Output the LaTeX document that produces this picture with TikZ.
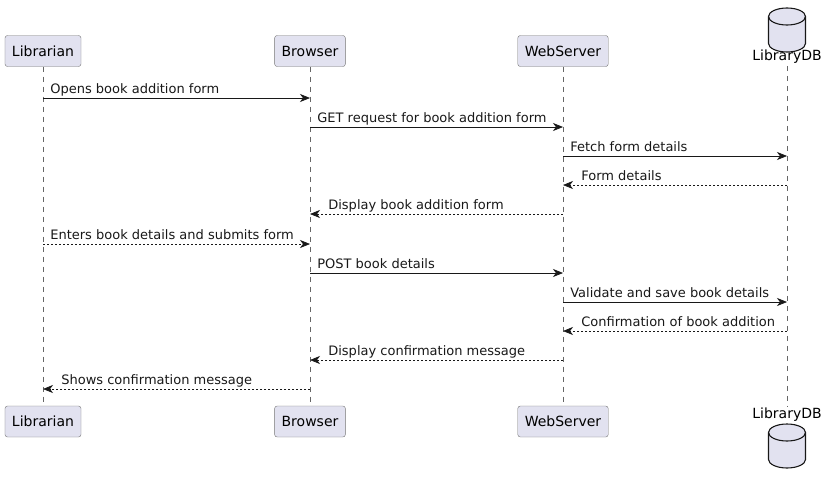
\documentclass[tikz,border=0pt]{standalone}
\usepackage{fontspec}
\setmainfont{DejaVu Sans}
\usetikzlibrary{arrows.meta,positioning}
\definecolor{boxfill}{HTML}{E2E2F0}
\definecolor{ink}{HTML}{181818}
% database drum centred on a named coordinate
\newcommand{\dbdrum}[1]{%
  \begin{scope}[shift={(#1)}, x=1pt, y=1pt]
    \draw[dbline, fill=boxfill] (-18.5,13.5) -- (-18.5,-13.5)
      arc[start angle=180, end angle=360, x radius=18.5, y radius=8.5] -- (18.5,13.5)
      arc[start angle=0, end angle=180, x radius=18.5, y radius=8.5] -- cycle;
    \draw[dbline] (-18.5,13.5) arc[start angle=180, end angle=360, x radius=18.5, y radius=8.5];
  \end{scope}}

\begin{document}
\begin{tikzpicture}[x=1pt, y=-1pt,
  actor/.style={draw=black!55, fill=boxfill, rounded corners=2.5pt, minimum height=31pt, inner xsep=7pt, font=\fontsize{14}{16}\selectfont},
  dbline/.style={draw=ink, line width=1.1pt},
  dblabel/.style={inner sep=0pt, font=\fontsize{14}{16}\selectfont},
  life/.style={draw=black!60, dash pattern=on 5pt off 5pt, line width=0.5pt},
  msg/.style={draw=ink, line width=0.7pt, -{Stealth[length=10pt, width=8pt, inset=3pt]}},
  reply/.style={msg, dash pattern=on 2pt off 2pt},
  lbl/.style={inner sep=0pt, anchor=base west, yshift=5pt, text=ink, font=\fontsize{13}{15}\selectfont}]
  \useasboundingbox (0,0) rectangle (825,485);

  % participants, top row
  \node[actor] (lib) at (43,51) {Librarian};
  \node[actor] (brw) at (310,51) {Browser};
  \node[actor] (web) at (563,51) {WebServer};
  \coordinate (db) at (787,30);
  \dbdrum{db}
  \node[dblabel] (dbname) at (787,57) {LibraryDB};

  % participants, bottom row
  \node[actor] (libB) at (43,421.5) {Librarian};
  \node[actor] (brwB) at (310,421.5) {Browser};
  \node[actor] (webB) at (563,421.5) {WebServer};
  \node[dblabel] (dbnameB) at (787,415) {LibraryDB};
  \coordinate (dbB) at (787,446);
  \dbdrum{dbB}

  % lifelines
  \path[life]
    (lib.south) -- (libB.north)
    (brw.south) -- (brwB.north)
    (web.south) -- (webB.north)
    ([yshift=-2pt]dbname.south) -- ([yshift=2pt]dbnameB.north);

  % message rows
  \foreach \i/\y in {1/98,2/127,3/156,4/185,5/214,6/244,7/273,8/302,9/331,10/360,11/389}
    \coordinate (m\i) at (0,\y);

  % messages
  \path
    (lib |- m1) edge[msg] node[lbl, at start, xshift=7pt] {Opens book addition form} (brw |- m1)
    (brw |- m2) edge[msg] node[lbl, at start, xshift=7pt] {GET request for book addition form} (web |- m2)
    (web |- m3) edge[msg] node[lbl, at start, xshift=7pt] {Fetch form details} (db |- m3)
    (db |- m4) edge[reply] node[lbl, at end, xshift=18pt] {Form details} (web |- m4)
    (web |- m5) edge[reply] node[lbl, at end, xshift=18pt] {Display book addition form} (brw |- m5)
    (lib |- m6) edge[reply] node[lbl, at start, xshift=7pt] {Enters book details and submits form} (brw |- m6)
    (brw |- m7) edge[msg] node[lbl, at start, xshift=7pt] {POST book details} (web |- m7)
    (web |- m8) edge[msg] node[lbl, at start, xshift=7pt] {Validate and save book details} (db |- m8)
    (db |- m9) edge[reply] node[lbl, at end, xshift=18pt] {Confirmation of book addition} (web |- m9)
    (web |- m10) edge[reply] node[lbl, at end, xshift=18pt] {Display confirmation message} (brw |- m10)
    (brw |- m11) edge[reply] node[lbl, at end, xshift=18pt] {Shows confirmation message} (lib |- m11);
\end{tikzpicture}
\end{document}
